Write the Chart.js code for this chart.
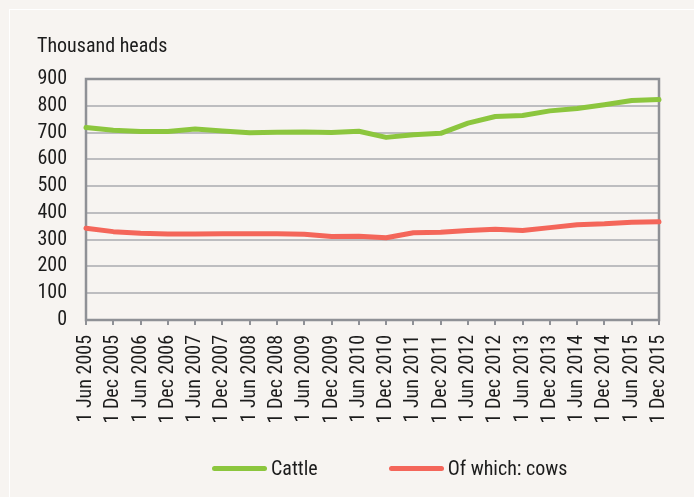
<!DOCTYPE html>
<html>
<head>
<meta charset="utf-8">
<script src="https://cdn.jsdelivr.net/npm/chart.js@4.4.1/dist/chart.umd.min.js"></script>
<style>
  html, body { margin: 0; padding: 0; background: #f7f4f1; }
  #wrap { position: relative; width: 694px; height: 497px; overflow: hidden; }
  #frame { position: absolute; left: 9px; top: 9px; right: 0; bottom: 0; border-top: 1px solid #fff; border-left: 1px solid #fff; }
  #chart { position: absolute; left: 0; top: 0; }
  #legend {
    position: absolute; left: 212px; top: 456px; height: 24px;
    display: flex; align-items: center; gap: 71px;
    font: 20px 'Roboto Condensed', 'DejaVu Sans Condensed', sans-serif; color: #1c1c1c; line-height: 24px;
  }
  #legend .item { display: flex; align-items: center; white-space: nowrap; }
  #legend .swatch { width: 55px; height: 5px; border-radius: 3px; margin-right: 4px; }
</style>
</head>
<body>
<div id="wrap">
  <div id="frame"></div>
  <canvas id="chart" width="694" height="497"></canvas>
  <div id="legend"></div>
</div>
<script>
const dates = [
  '1 Jun 2005', '1 Dec 2005', '1 Jun 2006', '1 Dec 2006', '1 Jun 2007', '1 Dec 2007',
  '1 Jun 2008', '1 Dec 2008', '1 Jun 2009', '1 Dec 2009', '1 Jun 2010', '1 Dec 2010',
  '1 Jun 2011', '1 Dec 2011', '1 Jun 2012', '1 Dec 2012', '1 Jun 2013', '1 Dec 2013',
  '1 Jun 2014', '1 Dec 2014', '1 Jun 2015', '1 Dec 2015'
];
const cattle = [719, 709, 704, 704, 713, 706, 699, 701, 702, 700, 705, 682, 692, 697, 735, 760, 764, 781, 790, 804, 820, 823];
const cows = [343, 330, 324, 321, 321, 322, 322, 322, 320, 312, 313, 307, 326, 328, 334, 339, 334, 345, 356, 359, 365, 367];

const FONT = "'Roboto Condensed', 'DejaVu Sans Condensed', sans-serif";
const TEXT = '#1c1c1c';
const AXIS = '#8f9196';

// frame round the plot area (top and right sides too)
const plotFrame = {
  id: 'plotFrame',
  beforeDatasetsDraw(chart) {
    const { ctx, chartArea: a } = chart;
    ctx.save();
    ctx.strokeStyle = AXIS;
    ctx.lineWidth = 2.5;
    ctx.strokeRect(a.left, a.top, a.right - a.left, a.bottom - a.top);
    ctx.restore();
  },
};

// legend as html, built from the chart's own legend items
const htmlLegend = {
  id: 'htmlLegend',
  afterUpdate(chart) {
    const box = document.getElementById('legend');
    box.innerHTML = '';
    Chart.defaults.plugins.legend.labels.generateLabels(chart).forEach((item) => {
      const el = document.createElement('div');
      el.className = 'item';
      const sw = document.createElement('span');
      sw.className = 'swatch';
      sw.style.background = item.strokeStyle;
      const txt = document.createElement('span');
      txt.textContent = item.text;
      el.appendChild(sw);
      el.appendChild(txt);
      box.appendChild(el);
    });
  },
};

new Chart(document.getElementById('chart').getContext('2d'), {
  type: 'line',
  data: {
    labels: dates,
    datasets: [
      {
        label: 'Cattle',
        data: cattle,
        borderColor: '#8cc63e',
        backgroundColor: '#8cc63e',
        borderWidth: 5,
        borderCapStyle: 'round',
        borderJoinStyle: 'round',
        pointRadius: 0,
        tension: 0,
        clip: false,
      },
      {
        label: 'Of which: cows',
        data: cows,
        borderColor: '#f4665a',
        backgroundColor: '#f4665a',
        borderWidth: 5,
        borderCapStyle: 'round',
        borderJoinStyle: 'round',
        pointRadius: 0,
        tension: 0,
        clip: false,
      },
    ],
  },
  options: {
    responsive: false,
    animation: false,
    layout: { padding: { left: 37, right: 35, top: 35, bottom: 67 } },
    plugins: {
      title: {
        display: true,
        text: 'Thousand heads',
        align: 'start',
        color: TEXT,
        font: { family: FONT, size: 20, weight: 'normal', lineHeight: 1.2 },
        padding: { top: 0, bottom: 20 },
      },
      legend: { display: false },
      tooltip: { enabled: false },
    },
    scales: {
      x: {
        offset: false,
        grid: { display: true, drawOnChartArea: false, drawTicks: true, tickLength: 5, color: AXIS, lineWidth: 2 },
        border: { display: false },
        ticks: {
          color: TEXT,
          font: { family: FONT, size: 20 },
          minRotation: 90,
          maxRotation: 90,
          autoSkip: false,
          padding: 10,
        },
        afterFit(scale) { scale.height = 110; },
      },
      y: {
        min: 0,
        max: 900,
        grid: { color: '#bdbdc0', lineWidth: 2, drawTicks: false },
        border: { display: false },
        ticks: {
          stepSize: 100,
          autoSkip: false,
          color: TEXT,
          font: { family: FONT, size: 20 },
          padding: 19,
        },
        afterFit(scale) { scale.width = 49; },
      },
    },
  },
  plugins: [plotFrame, htmlLegend],
});
</script>
</body>
</html>
